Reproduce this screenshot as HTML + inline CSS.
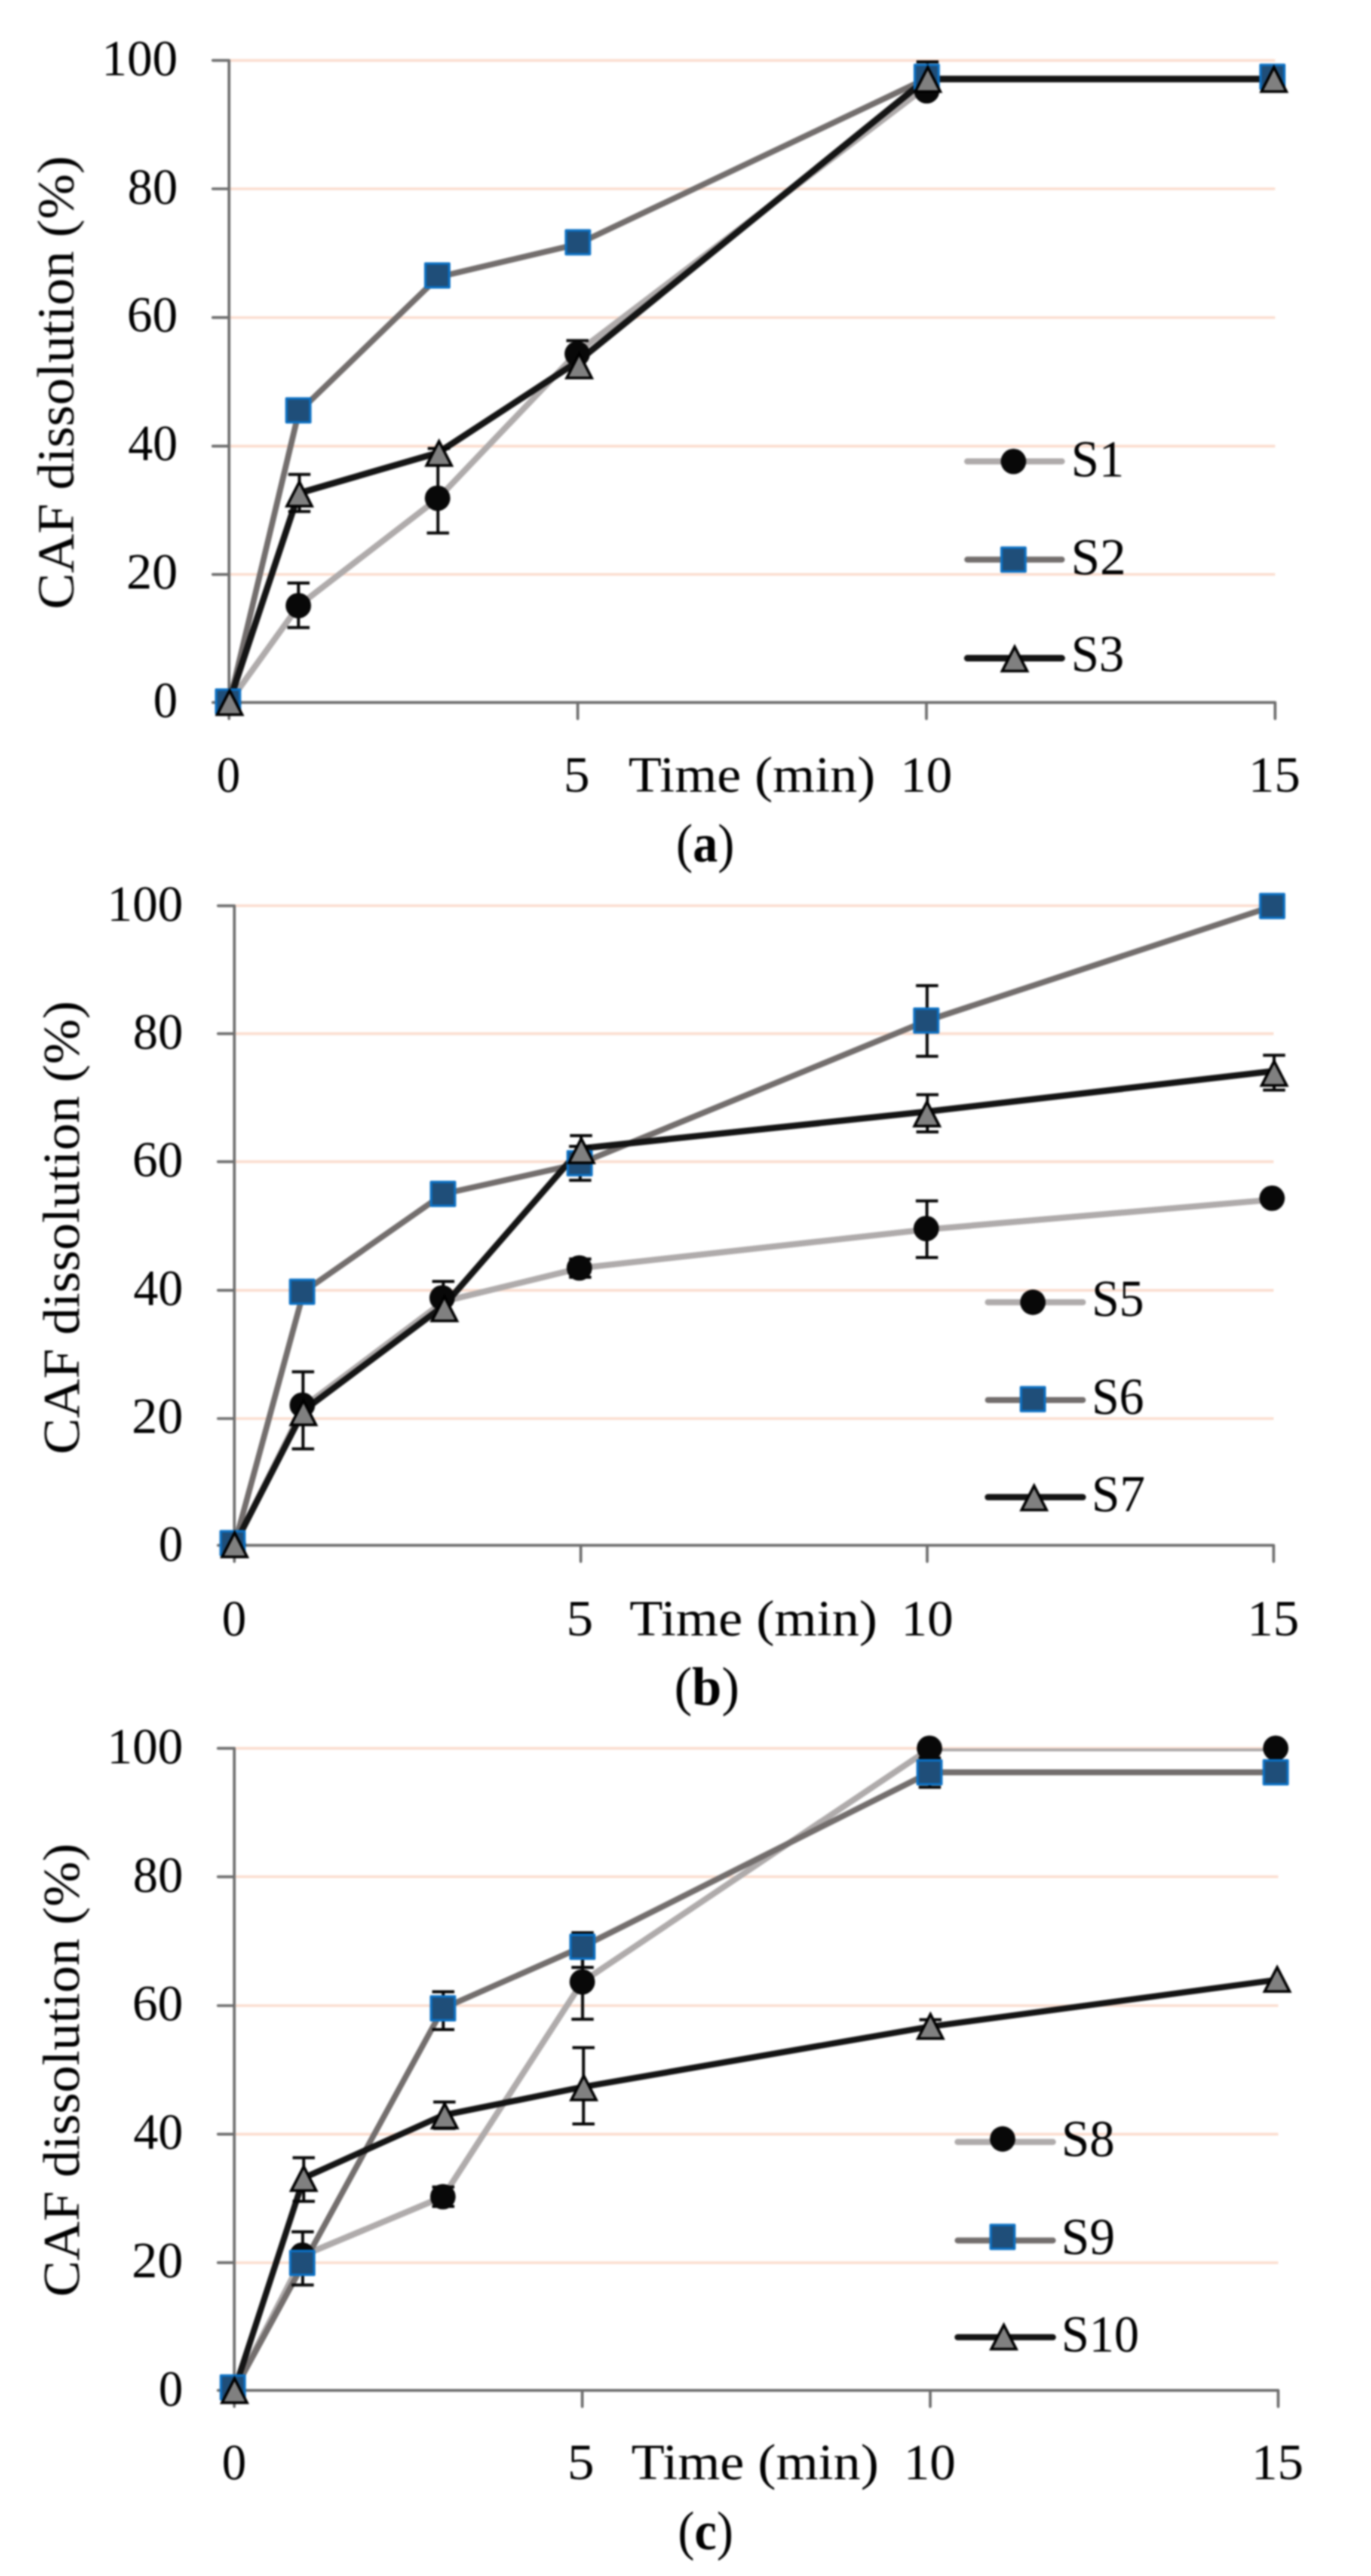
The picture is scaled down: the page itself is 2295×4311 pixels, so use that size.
<!DOCTYPE html>
<html lang="en"><head><meta charset="utf-8"><title>CAF dissolution profiles</title>
<style>html,body{margin:0;padding:0;background:#fff}body{width:2295px;height:4311px;overflow:hidden}svg{display:block}</style>
</head><body>
<svg width="2295" height="4311" viewBox="0 0 2295 4311" font-family="'Liberation Serif', serif" fill="#000">
<rect width="2295" height="4311" fill="#fff"/>
<defs>
<clipPath id="clipC"><rect x="380" y="2925.9" width="1800" height="1110"/></clipPath>
<filter id="soft" filterUnits="userSpaceOnUse" x="0" y="0" width="2295" height="4311" color-interpolation-filters="sRGB"><feGaussianBlur stdDeviation="1.6"/></filter>
</defs>
<g filter="url(#soft)">
<path d="M383.4 961.28H2134.5" stroke="#FBDED0" stroke-width="4.6"/>
<path d="M383.4 746.66H2134.5" stroke="#FBDED0" stroke-width="4.6"/>
<path d="M383.4 531.44H2134.5" stroke="#FBDED0" stroke-width="4.6"/>
<path d="M383.4 316.02H2134.5" stroke="#FBDED0" stroke-width="4.6"/>
<path d="M383.4 101.1H2134.5" stroke="#FBDED0" stroke-width="4.6"/>
<path d="M383.4 101.1V1202.85M356.25 1175.7H2134.5M356.25 961.28H383.4M356.25 746.66H383.4M356.25 531.44H383.4M356.25 316.02H383.4M356.25 101.1H383.4M967.1 1175.7V1202.85M1550.8 1175.7V1202.85M2134.5 1175.7V1202.85" stroke="#6E6E6E" stroke-width="4.7" fill="none" stroke-linecap="round"/>
<text transform="translate(256.55,1200.2) scale(0.9740,1)" font-size="84">0</text>
<text transform="translate(211.56,985.28) scale(1.0241,1)" font-size="84">20</text>
<text transform="translate(214.17,770.36) scale(0.9921,1)" font-size="84">40</text>
<text transform="translate(212.6,555.44) scale(1.0113,1)" font-size="84">60</text>
<text transform="translate(213.48,340.52) scale(1.0005,1)" font-size="84">80</text>
<text transform="translate(170.21,125.6) scale(1.0106,1)" font-size="84">100</text>
<text transform="translate(122.5,1019.84) rotate(-90) scale(1.0592,1)" font-size="86">CAF dissolution (%)</text>
<path d="M383.4 1175.7L500.14 1013.5L733.62 833.7L967.1 589L1550.8 145" stroke="#AFABAB" stroke-width="10.2" fill="none" stroke-linejoin="round" stroke-linecap="round"/>
<path d="M383.4 1178L500.14 689.5L733.62 463.7L967.1 408.4L1550.8 131.5L2134.5 131.5" stroke="#736E6D" stroke-width="9.8" fill="none" stroke-linejoin="round" stroke-linecap="round"/>
<path d="M383.4 1175.7L500.14 825.5L733.62 757.6L967.1 605L1550.8 132.3L2134.5 132.3" stroke="#141414" stroke-width="10.8" fill="none" stroke-linejoin="round" stroke-linecap="round"/>
<path d="M499.64 975.7V1050.3M481.04 975.7H518.24M481.04 1050.3H518.24" stroke="#050505" stroke-width="5.0" fill="none"/>
<path d="M733.12 775.6V892M714.52 775.6H751.72M714.52 892H751.72" stroke="#050505" stroke-width="5.0" fill="none"/>
<path d="M966.6 570V600M948 570H985.2" stroke="#050505" stroke-width="5.0" fill="none"/>
<path d="M501.14 794V856M482.54 794H519.74M482.54 856H519.74" stroke="#050505" stroke-width="5.0" fill="none"/>
<path d="M734.62 750.4V760M716.02 750.4H753.22" stroke="#050505" stroke-width="5.0" fill="none"/>
<path d="M1552.6 103.6V150M1534 103.6H1571.2" stroke="#050505" stroke-width="5.0" fill="none"/>
<circle cx="382.4" cy="1175.7" r="21.3" fill="#080808"/>
<circle cx="499.44" cy="1013.5" r="21.3" fill="#080808"/>
<circle cx="732.42" cy="833.7" r="21.3" fill="#080808"/>
<circle cx="966.3" cy="592.2" r="21.3" fill="#080808"/>
<circle cx="1551.3" cy="152" r="21.3" fill="#080808"/>
<rect x="361.7" y="1154" width="40" height="40" fill="#1F4E79" stroke="#0B70C4" stroke-width="4.0" stroke-linejoin="round"/>
<rect x="479.44" y="666.8" width="40" height="40" fill="#1F4E79" stroke="#0B70C4" stroke-width="4.0" stroke-linejoin="round"/>
<rect x="712.02" y="440.9" width="40" height="40" fill="#1F4E79" stroke="#0B70C4" stroke-width="4.0" stroke-linejoin="round"/>
<rect x="947.4" y="385.6" width="40" height="40" fill="#1F4E79" stroke="#0B70C4" stroke-width="4.0" stroke-linejoin="round"/>
<rect x="1531.3" y="108.5" width="40" height="40" fill="#1F4E79" stroke="#0B70C4" stroke-width="4.0" stroke-linejoin="round"/>
<rect x="2110" y="108.5" width="40" height="40" fill="#1F4E79" stroke="#0B70C4" stroke-width="4.0" stroke-linejoin="round"/>
<path d="M384.4 1155.6L405.3 1196.1L363.5 1196.1Z" fill="#808080" stroke="#000" stroke-width="4.5" stroke-linejoin="miter"/>
<path d="M501.14 806.4L522.04 846.9L480.24 846.9Z" fill="#808080" stroke="#000" stroke-width="4.5" stroke-linejoin="miter"/>
<path d="M734.92 738.5L755.82 779L714.02 779Z" fill="#808080" stroke="#000" stroke-width="4.5" stroke-linejoin="miter"/>
<path d="M969.6 591.9L990.5 632.4L948.7 632.4Z" fill="#808080" stroke="#000" stroke-width="4.5" stroke-linejoin="miter"/>
<path d="M1553.1 112.7L1574 153.2L1532.2 153.2Z" fill="#808080" stroke="#000" stroke-width="4.5" stroke-linejoin="miter"/>
<path d="M2132.5 112.7L2153.4 153.2L2111.6 153.2Z" fill="#808080" stroke="#000" stroke-width="4.5" stroke-linejoin="miter"/>
<text transform="translate(362.61,1325.3) scale(0.9470,1)" font-size="84">0</text>
<text transform="translate(943.42,1325.3) scale(1.0431,1)" font-size="84">5</text>
<text transform="translate(1051.99,1325.3) scale(1.0819,1)" font-size="84">Time (min)</text>
<text transform="translate(1506.92,1325.3) scale(1.0380,1)" font-size="84">10</text>
<text transform="translate(2089.83,1325.3) scale(1.0367,1)" font-size="84">15</text>
<text transform="translate(1131.86,1441.7) scale(0.9275,1)" font-size="90">(<tspan font-weight="bold">a</tspan>)</text>
<path d="M1619.15 772.2L1777.55 772.2" stroke="#AFABAB" stroke-width="10.2" fill="none" stroke-linejoin="round" stroke-linecap="round"/>
<circle cx="1696.5" cy="772.2" r="21.3" fill="#080808"/>
<text transform="translate(1792.96,797.3) scale(0.9775,1)" font-size="86">S1</text>
<path d="M1619.15 936.5L1777.55 936.5" stroke="#736E6D" stroke-width="9.8" fill="none" stroke-linejoin="round" stroke-linecap="round"/>
<rect x="1676.5" y="916.5" width="40" height="40" fill="#1F4E79" stroke="#0B70C4" stroke-width="4.0" stroke-linejoin="round"/>
<text transform="translate(1792.76,961.4) scale(1.0164,1)" font-size="86">S2</text>
<path d="M1619.15 1101.5L1777.55 1101.5" stroke="#141414" stroke-width="10.8" fill="none" stroke-linejoin="round" stroke-linecap="round"/>
<path d="M1698.5 1082.4L1719.4 1122.9L1677.6 1122.9Z" fill="#808080" stroke="#000" stroke-width="4.5" stroke-linejoin="miter"/>
<text transform="translate(1792.94,1122.8) scale(0.9797,1)" font-size="86">S3</text>
<path d="M392.3 2374.02H2132" stroke="#FBDED0" stroke-width="4.6"/>
<path d="M392.3 2159.34H2132" stroke="#FBDED0" stroke-width="4.6"/>
<path d="M392.3 1944.16H2132" stroke="#FBDED0" stroke-width="4.6"/>
<path d="M392.3 1729.88H2132" stroke="#FBDED0" stroke-width="4.6"/>
<path d="M392.3 1515.8H2132" stroke="#FBDED0" stroke-width="4.6"/>
<path d="M392.3 1515.8V2613.35M365.15 2586.2H2132M365.15 2374.02H392.3M365.15 2159.34H392.3M365.15 1944.16H392.3M365.15 1729.88H392.3M365.15 1515.8H392.3M972.2 2586.2V2613.35M1552.1 2586.2V2613.35M2132 2586.2V2613.35" stroke="#6E6E6E" stroke-width="4.7" fill="none" stroke-linecap="round"/>
<text transform="translate(265.55,2611.7) scale(0.9740,1)" font-size="84">0</text>
<text transform="translate(220.56,2397.62) scale(1.0241,1)" font-size="84">20</text>
<text transform="translate(223.17,2183.54) scale(0.9921,1)" font-size="84">40</text>
<text transform="translate(221.6,1969.46) scale(1.0113,1)" font-size="84">60</text>
<text transform="translate(222.48,1755.38) scale(1.0005,1)" font-size="84">80</text>
<text transform="translate(179.21,1541.3) scale(1.0106,1)" font-size="84">100</text>
<text transform="translate(131.9,2434.04) rotate(-90) scale(1.0592,1)" font-size="86">CAF dissolution (%)</text>
<path d="M392.3 2586L508.28 2354L742.56 2178L972.2 2122L1552.1 2057.5L2132 2007.5" stroke="#AFABAB" stroke-width="10.2" fill="none" stroke-linejoin="round" stroke-linecap="round"/>
<path d="M392.3 2586L508.28 2161.7L742.56 1998L972.2 1946.8L1552.1 1708L2132 1516.2" stroke="#736E6D" stroke-width="9.8" fill="none" stroke-linejoin="round" stroke-linecap="round"/>
<path d="M392.3 2586L508.28 2360.5L742.56 2185.5L972.2 1922L1552.1 1860.3L2132 1792.5" stroke="#141414" stroke-width="10.5" fill="none" stroke-linejoin="round" stroke-linecap="round"/>
<path d="M507.28 2295.7V2424.7M488.68 2295.7H525.88M488.68 2424.7H525.88" stroke="#050505" stroke-width="5.0" fill="none"/>
<path d="M742.06 2144.5V2182M723.46 2144.5H760.66" stroke="#050505" stroke-width="5.0" fill="none"/>
<path d="M971.2 2107V2137.4M952.6 2107H989.8M952.6 2137.4H989.8" stroke="#050505" stroke-width="5.0" fill="none"/>
<path d="M1551.6 2009.8V2104.4M1533 2009.8H1570.2M1533 2104.4H1570.2" stroke="#050505" stroke-width="5.0" fill="none"/>
<path d="M971.2 1918.4V1975.2M952.6 1918.4H989.8M952.6 1975.2H989.8" stroke="#050505" stroke-width="5.0" fill="none"/>
<path d="M1551.9 1649.4V1767.7M1533.3 1649.4H1570.5M1533.3 1767.7H1570.5" stroke="#050505" stroke-width="5.0" fill="none"/>
<path d="M972.7 1900.5V1948.7M954.1 1900.5H991.3M954.1 1948.7H991.3" stroke="#050505" stroke-width="5.0" fill="none"/>
<path d="M1552.4 1831.9V1894.3M1533.8 1831.9H1571M1533.8 1894.3H1571" stroke="#050505" stroke-width="5.0" fill="none"/>
<path d="M2132.8 1765.9V1824.3M2114.2 1765.9H2151.4M2114.2 1824.3H2151.4" stroke="#050505" stroke-width="5.0" fill="none"/>
<circle cx="390.3" cy="2584" r="21.3" fill="#080808"/>
<circle cx="506.08" cy="2351.5" r="21.3" fill="#080808"/>
<circle cx="740.16" cy="2172" r="21.3" fill="#080808"/>
<circle cx="969.8" cy="2122" r="21.3" fill="#080808"/>
<circle cx="1550.5" cy="2056" r="21.3" fill="#080808"/>
<circle cx="2129.4" cy="2005.2" r="21.3" fill="#080808"/>
<rect x="369.4" y="2562.6" width="40" height="40" fill="#1F4E79" stroke="#0B70C4" stroke-width="4.0" stroke-linejoin="round"/>
<rect x="485.68" y="2141.7" width="40" height="40" fill="#1F4E79" stroke="#0B70C4" stroke-width="4.0" stroke-linejoin="round"/>
<rect x="721.56" y="1978" width="40" height="40" fill="#1F4E79" stroke="#0B70C4" stroke-width="4.0" stroke-linejoin="round"/>
<rect x="950.3" y="1926.8" width="40" height="40" fill="#1F4E79" stroke="#0B70C4" stroke-width="4.0" stroke-linejoin="round"/>
<rect x="1530.5" y="1688" width="40" height="40" fill="#1F4E79" stroke="#0B70C4" stroke-width="4.0" stroke-linejoin="round"/>
<rect x="2109.6" y="1496.2" width="40" height="40" fill="#1F4E79" stroke="#0B70C4" stroke-width="4.0" stroke-linejoin="round"/>
<path d="M392.7 2564.9L413.6 2605.4L371.8 2605.4Z" fill="#808080" stroke="#000" stroke-width="4.5" stroke-linejoin="miter"/>
<path d="M507.98 2343.9L528.88 2384.4L487.08 2384.4Z" fill="#808080" stroke="#000" stroke-width="4.5" stroke-linejoin="miter"/>
<path d="M743.96 2169.9L764.86 2210.4L723.06 2210.4Z" fill="#808080" stroke="#000" stroke-width="4.5" stroke-linejoin="miter"/>
<path d="M973.1 1905.5L994 1946L952.2 1946Z" fill="#808080" stroke="#000" stroke-width="4.5" stroke-linejoin="miter"/>
<path d="M1551.7 1843.9L1572.6 1884.4L1530.8 1884.4Z" fill="#808080" stroke="#000" stroke-width="4.5" stroke-linejoin="miter"/>
<path d="M2132.9 1776L2153.8 1816.5L2112 1816.5Z" fill="#808080" stroke="#000" stroke-width="4.5" stroke-linejoin="miter"/>
<text transform="translate(371.55,2736.8) scale(0.9740,1)" font-size="84">0</text>
<text transform="translate(947.99,2736.8) scale(1.0743,1)" font-size="84">5</text>
<text transform="translate(1053.69,2736.8) scale(1.0867,1)" font-size="84">Time (min)</text>
<text transform="translate(1508.62,2736.8) scale(1.0380,1)" font-size="84">10</text>
<text transform="translate(2087.78,2736.8) scale(1.0367,1)" font-size="84">15</text>
<text transform="translate(1128.63,2852.9) scale(0.9910,1)" font-size="90">(<tspan font-weight="bold">b</tspan>)</text>
<path d="M1653.75 2179.4L1812.65 2179.4" stroke="#AFABAB" stroke-width="10.2" fill="none" stroke-linejoin="round" stroke-linecap="round"/>
<circle cx="1729" cy="2179.4" r="21.3" fill="#080808"/>
<text transform="translate(1827.42,2202.4) scale(0.9652,1)" font-size="86">S5</text>
<path d="M1653.75 2343L1812.65 2343" stroke="#736E6D" stroke-width="9.8" fill="none" stroke-linejoin="round" stroke-linecap="round"/>
<rect x="1709" y="2321.5" width="40" height="40" fill="#1F4E79" stroke="#0B70C4" stroke-width="4.0" stroke-linejoin="round"/>
<text transform="translate(1827.42,2365.8) scale(0.9649,1)" font-size="86">S6</text>
<path d="M1653.75 2505.5L1812.65 2505.5" stroke="#141414" stroke-width="10.5" fill="none" stroke-linejoin="round" stroke-linecap="round"/>
<path d="M1731 2486.4L1751.9 2526.9L1710.1 2526.9Z" fill="#808080" stroke="#000" stroke-width="4.5" stroke-linejoin="miter"/>
<text transform="translate(1827.3,2529.1) scale(0.9887,1)" font-size="86">S7</text>
<path d="M392.2 3786.7H2139.7" stroke="#FBDED0" stroke-width="4.6"/>
<path d="M392.2 3571.6H2139.7" stroke="#FBDED0" stroke-width="4.6"/>
<path d="M392.2 3356.5H2139.7" stroke="#FBDED0" stroke-width="4.6"/>
<path d="M392.2 3140.8H2139.7" stroke="#FBDED0" stroke-width="4.6"/>
<path d="M392.2 2925.9H2139.7" stroke="#FBDED0" stroke-width="4.6"/>
<path d="M392.2 2925.9V4027.55M365.05 4000.4H2139.7M365.05 3786.7H392.2M365.05 3571.6H392.2M365.05 3356.5H392.2M365.05 3140.8H392.2M365.05 2925.9H392.2M974.7 4000.4V4027.55M1557.2 4000.4V4027.55M2139.7 4000.4V4027.55" stroke="#6E6E6E" stroke-width="4.7" fill="none" stroke-linecap="round"/>
<text transform="translate(265.55,4025.9) scale(0.9740,1)" font-size="84">0</text>
<text transform="translate(220.56,3811) scale(1.0241,1)" font-size="84">20</text>
<text transform="translate(223.17,3596.1) scale(0.9921,1)" font-size="84">40</text>
<text transform="translate(221.6,3381.2) scale(1.0113,1)" font-size="84">60</text>
<text transform="translate(222.48,3166.3) scale(1.0005,1)" font-size="84">80</text>
<text transform="translate(179.21,2951.4) scale(1.0106,1)" font-size="84">100</text>
<text transform="translate(131.9,3843.94) rotate(-90) scale(1.0592,1)" font-size="86">CAF dissolution (%)</text>
<path d="M392.2 4000.4L508.7 3774L741.7 3676.3L974.7 3316.7L1557.2 2925.9L2139.7 2925.9" stroke="#AFABAB" stroke-width="10.2" fill="none" stroke-linejoin="round" stroke-linecap="round" clip-path="url(#clipC)"/>
<path d="M392.2 4000.4L508.7 3787L741.7 3361L974.7 3258L1557.2 2966L2139.7 2966" stroke="#736E6D" stroke-width="9.8" fill="none" stroke-linejoin="round" stroke-linecap="round"/>
<path d="M392.2 4000.4L508.7 3644.7L741.7 3539.9L974.7 3492.8L1557.2 3391.5L2139.7 3313" stroke="#141414" stroke-width="10.3" fill="none" stroke-linejoin="round" stroke-linecap="round"/>
<path d="M506.7 3735V3824M488.1 3735H525.3M488.1 3824H525.3" stroke="#050505" stroke-width="5.0" fill="none"/>
<path d="M742 3660V3692.5M723.4 3660H760.6M723.4 3692.5H760.6" stroke="#050505" stroke-width="5.0" fill="none"/>
<path d="M975.2 3254.4V3379.2M956.6 3254.4H993.8M956.6 3379.2H993.8" stroke="#050505" stroke-width="5.0" fill="none"/>
<path d="M742 3333.3V3396.4M723.4 3333.3H760.6M723.4 3396.4H760.6" stroke="#050505" stroke-width="5.0" fill="none"/>
<path d="M975.2 3234.5V3292.5M956.6 3234.5H993.8M956.6 3292.5H993.8" stroke="#050505" stroke-width="5.0" fill="none"/>
<path d="M1556.4 2942V2990.9M1537.8 2942H1575M1537.8 2990.9H1575" stroke="#050505" stroke-width="5.0" fill="none"/>
<path d="M508.4 3611V3684M489.8 3611H527M489.8 3684H527" stroke="#050505" stroke-width="5.0" fill="none"/>
<path d="M743.9 3517.7V3562M725.3 3517.7H762.5M725.3 3562H762.5" stroke="#050505" stroke-width="5.0" fill="none"/>
<path d="M976.7 3426.8V3554.4M958.1 3426.8H995.3M958.1 3554.4H995.3" stroke="#050505" stroke-width="5.0" fill="none"/>
<path d="M1557.5 3380V3394M1538.9 3380H1576.1" stroke="#050505" stroke-width="5.0" fill="none"/>
<circle cx="389.7" cy="3996.6" r="21.3" fill="#080808"/>
<circle cx="506" cy="3774" r="21.3" fill="#080808"/>
<circle cx="741.4" cy="3676.3" r="21.3" fill="#080808"/>
<circle cx="974.7" cy="3316.7" r="21.3" fill="#080808"/>
<circle cx="1555.9" cy="2925.7" r="21.3" fill="#080808"/>
<circle cx="2135.5" cy="2925.7" r="21.3" fill="#080808"/>
<rect x="369.7" y="3975.4" width="40" height="40" fill="#1F4E79" stroke="#0B70C4" stroke-width="4.0" stroke-linejoin="round"/>
<rect x="485.9" y="3767" width="40" height="40" fill="#1F4E79" stroke="#0B70C4" stroke-width="4.0" stroke-linejoin="round"/>
<rect x="721.5" y="3341" width="40" height="40" fill="#1F4E79" stroke="#0B70C4" stroke-width="4.0" stroke-linejoin="round"/>
<rect x="955" y="3238" width="40" height="40" fill="#1F4E79" stroke="#0B70C4" stroke-width="4.0" stroke-linejoin="round"/>
<rect x="1535.9" y="2946" width="40" height="40" fill="#1F4E79" stroke="#0B70C4" stroke-width="4.0" stroke-linejoin="round"/>
<rect x="2115.5" y="2946" width="40" height="40" fill="#1F4E79" stroke="#0B70C4" stroke-width="4.0" stroke-linejoin="round"/>
<path d="M392.6 3980.5L413.5 4021L371.7 4021Z" fill="#808080" stroke="#000" stroke-width="4.5" stroke-linejoin="miter"/>
<path d="M508.4 3625.6L529.3 3666.1L487.5 3666.1Z" fill="#808080" stroke="#000" stroke-width="4.5" stroke-linejoin="miter"/>
<path d="M744.4 3520.8L765.3 3561.3L723.5 3561.3Z" fill="#808080" stroke="#000" stroke-width="4.5" stroke-linejoin="miter"/>
<path d="M977.2 3473.7L998.1 3514.2L956.3 3514.2Z" fill="#808080" stroke="#000" stroke-width="4.5" stroke-linejoin="miter"/>
<path d="M1557.5 3370.9L1578.4 3411.4L1536.6 3411.4Z" fill="#808080" stroke="#000" stroke-width="4.5" stroke-linejoin="miter"/>
<path d="M2137.9 3292.3L2158.8 3332.8L2117 3332.8Z" fill="#808080" stroke="#000" stroke-width="4.5" stroke-linejoin="miter"/>
<text transform="translate(371.55,4149) scale(0.9740,1)" font-size="84">0</text>
<text transform="translate(949.79,4149) scale(1.0743,1)" font-size="84">5</text>
<text transform="translate(1056.69,4149) scale(1.0851,1)" font-size="84">Time (min)</text>
<text transform="translate(1512.72,4149) scale(1.0380,1)" font-size="84">10</text>
<text transform="translate(2094.98,4149) scale(1.0367,1)" font-size="84">15</text>
<text transform="translate(1134.76,4265.8) scale(0.9284,1)" font-size="90">(<tspan font-weight="bold">c</tspan>)</text>
<path d="M1603.05 3584.6L1762.55 3584.6" stroke="#AFABAB" stroke-width="10.2" fill="none" stroke-linejoin="round" stroke-linecap="round"/>
<circle cx="1678.3" cy="3579.6" r="21.3" fill="#080808"/>
<text transform="translate(1776.63,3608.2) scale(0.9833,1)" font-size="86">S8</text>
<path d="M1603.05 3749.5L1762.55 3749.5" stroke="#736E6D" stroke-width="9.8" fill="none" stroke-linejoin="round" stroke-linecap="round"/>
<rect x="1658.3" y="3723.5" width="40" height="40" fill="#1F4E79" stroke="#0B70C4" stroke-width="4.0" stroke-linejoin="round"/>
<text transform="translate(1776.6,3771.6) scale(0.9887,1)" font-size="86">S9</text>
<path d="M1603.05 3911.4L1762.55 3911.4" stroke="#141414" stroke-width="10.3" fill="none" stroke-linejoin="round" stroke-linecap="round"/>
<path d="M1680.3 3890.8L1701.2 3931.3L1659.4 3931.3Z" fill="#808080" stroke="#000" stroke-width="4.5" stroke-linejoin="miter"/>
<text transform="translate(1776.68,3935) scale(0.9723,1)" font-size="86">S10</text>
</g>
</svg>
</body></html>
